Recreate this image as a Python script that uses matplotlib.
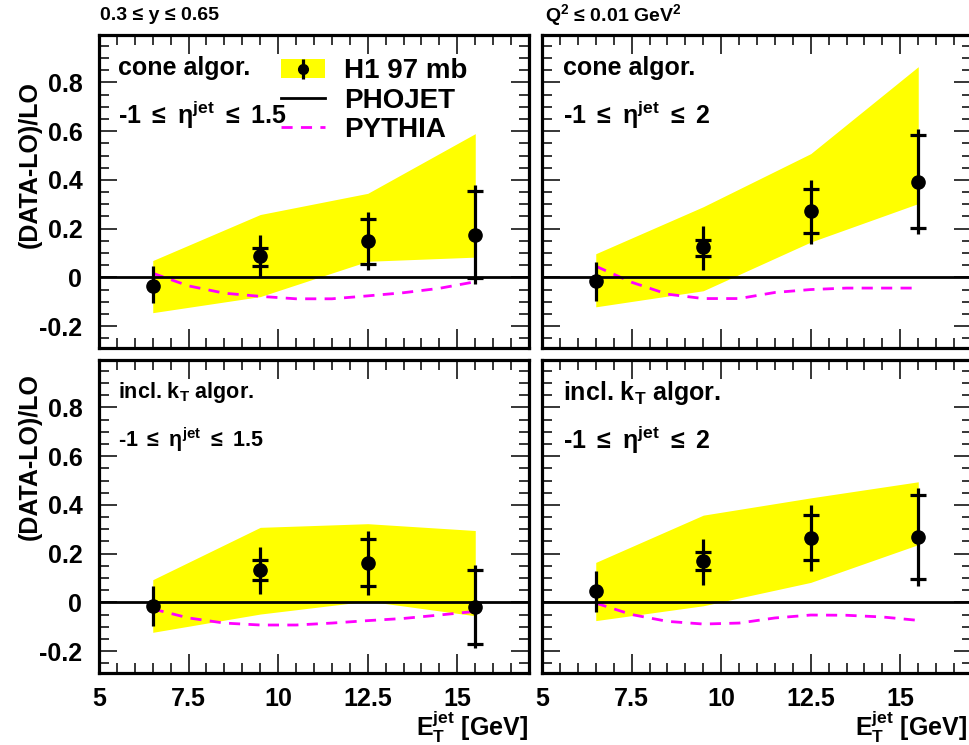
import matplotlib
matplotlib.use("Agg")
import matplotlib.pyplot as plt
from matplotlib.patches import Patch
from matplotlib.lines import Line2D
from matplotlib.ticker import MultipleLocator

plt.rcParams['font.family'] = ['Liberation Sans', 'DejaVu Sans']
plt.rcParams['font.weight'] = 'bold'
plt.rcParams['mathtext.fontset'] = 'custom'
plt.rcParams['mathtext.rm'] = 'Liberation Sans'
plt.rcParams['mathtext.bf'] = 'Liberation Sans:bold'
plt.rcParams['mathtext.it'] = 'Liberation Sans:italic'

# E_T bin centres
et = [6.5, 9.5, 12.5, 15.5]
# x positions where the PYTHIA curves were read
pythia_x = [6.5, 7.5, 8.5, 9.5, 10.5, 11.5, 12.5, 13.5, 14.5, 15.5]
# PHOJET is the reference (zero) line
phojet_x = [5, 17]
phojet_y = [0, 0]

# cone algorithm, -1 < eta < 1.5
cone15_val = [-0.035, 0.086, 0.149, 0.172]
cone15_tot_hi = [0.045, 0.175, 0.269, 0.379]
cone15_tot_lo = [-0.105, 0.0, 0.030, -0.028]
cone15_stat_hi = [None, 0.121, 0.241, 0.356]
cone15_stat_lo = [None, 0.048, 0.055, -0.003]
cone15_band_hi = [0.069, 0.258, 0.345, 0.590]
cone15_band_lo = [-0.145, -0.079, 0.066, 0.083]
cone15_pythia = [0.017, -0.035, -0.065, -0.078, -0.088, -0.088, -0.076, -0.063, -0.045, -0.018]

# cone algorithm, -1 < eta < 2
cone2_val = [-0.014, 0.123, 0.272, 0.393]
cone2_tot_hi = [0.062, 0.210, 0.400, 0.610]
cone2_tot_lo = [-0.097, 0.030, 0.138, 0.177]
cone2_stat_hi = [None, 0.154, 0.363, 0.583]
cone2_stat_lo = [None, 0.088, 0.182, 0.204]
cone2_band_hi = [0.097, 0.290, 0.508, 0.865]
cone2_band_lo = [-0.121, -0.055, 0.145, 0.303]
cone2_pythia = [0.046, -0.020, -0.069, -0.087, -0.087, -0.062, -0.050, -0.044, -0.044, -0.044]

# incl. kT algorithm, -1 < eta < 1.5
kt15_val = [-0.016, 0.132, 0.162, -0.019]
kt15_tot_hi = [0.066, 0.226, 0.292, 0.152]
kt15_tot_lo = [-0.096, 0.036, 0.029, -0.188]
kt15_stat_hi = [None, 0.175, 0.260, 0.134]
kt15_stat_lo = [None, 0.090, 0.066, -0.170]
kt15_band_hi = [0.093, 0.308, 0.323, 0.295]
kt15_band_lo = [-0.123, -0.048, 0.005, -0.055]
kt15_pythia = [-0.027, -0.064, -0.085, -0.093, -0.093, -0.085, -0.075, -0.066, -0.052, -0.037]

# incl. kT algorithm, -1 < eta < 2
kt2_val = [0.045, 0.168, 0.263, 0.268]
kt2_tot_hi = [0.127, 0.262, 0.401, 0.470]
kt2_tot_lo = [-0.041, 0.073, 0.127, 0.066]
kt2_stat_hi = [None, 0.207, 0.360, 0.440]
kt2_stat_lo = [None, 0.132, 0.173, 0.096]
kt2_band_hi = [0.164, 0.358, 0.429, 0.495]
kt2_band_lo = [-0.075, -0.014, 0.082, 0.237]
kt2_pythia = [-0.003, -0.050, -0.078, -0.089, -0.085, -0.064, -0.052, -0.053, -0.060, -0.074]

xticks = [5, 7.5, 10, 12.5, 15]
xticklabels = ['5', '7.5', '10', '12.5', '15']
yticks = [-0.2, 0, 0.2, 0.4, 0.6, 0.8]
yticklabels = ['-0.2', '0', '0.2', '0.4', '0.6', '0.8']

YELLOW = '#ffff00'
MAGENTA = '#ff00ff'

fig = plt.figure(figsize=(9.7, 7.45), dpi=100)
W, H = 970.0, 745.0
def px_axes(x0, y0, w, h):
    return fig.add_axes([x0 / W, 1 - (y0 + h) / H, w / W, h / H])

ax_tl = px_axes(99, 35, 430, 313)
ax_tr = px_axes(542, 35, 430, 313)
ax_bl = px_axes(99, 360, 430, 313)
ax_br = px_axes(542, 360, 430, 313)


def draw_panel(ax, val, tot_hi, tot_lo, st_hi, st_lo, b_hi, b_lo, pyth):
    ax.fill_between(et, b_lo, b_hi, color=YELLOW, lw=0, zorder=1)
    ax.plot(pythia_x, pyth, color=MAGENTA, lw=2.0, dashes=(4, 3), zorder=2)
    ax.plot(phojet_x, phojet_y, color='k', lw=2.0, zorder=3)
    ax.vlines(et, tot_lo, tot_hi, color='k', lw=2.3, zorder=4)
    sx = [x for x, s in zip(et, st_hi) if s is not None]
    ax.plot(sx, [s for s in st_hi if s is not None], ls='none', marker='_', ms=11, mew=2.3, color='k', zorder=4)
    ax.plot(sx, [s for s in st_lo if s is not None], ls='none', marker='_', ms=11, mew=2.3, color='k', zorder=4)
    ax.plot(et, val, ls='none', marker='o', ms=9.5, color='k', zorder=5)

    ax.set_xlim(5, 17)
    ax.set_ylim(-0.29, 0.995)
    ax.set_xticks(xticks)
    ax.set_yticks(yticks)
    ax.xaxis.set_minor_locator(MultipleLocator(0.5))
    ax.yaxis.set_minor_locator(MultipleLocator(0.05))
    ax.tick_params(which='both', direction='in', top=True, right=True, width=1.1, color='k')
    ax.tick_params(which='major', axis='x', length=14)
    ax.tick_params(which='major', axis='y', length=13)
    ax.tick_params(which='minor', length=7)
    ax.tick_params(axis='x', pad=10, labelsize=18)
    ax.tick_params(axis='y', pad=12, labelsize=18)
    for s in ax.spines.values():
        s.set_linewidth(2.3)
    ax.set_xticklabels([])
    ax.set_yticklabels([])


draw_panel(ax_tl, cone15_val, cone15_tot_hi, cone15_tot_lo, cone15_stat_hi, cone15_stat_lo,
           cone15_band_hi, cone15_band_lo, cone15_pythia)
draw_panel(ax_tr, cone2_val, cone2_tot_hi, cone2_tot_lo, cone2_stat_hi, cone2_stat_lo,
           cone2_band_hi, cone2_band_lo, cone2_pythia)
draw_panel(ax_bl, kt15_val, kt15_tot_hi, kt15_tot_lo, kt15_stat_hi, kt15_stat_lo,
           kt15_band_hi, kt15_band_lo, kt15_pythia)
draw_panel(ax_br, kt2_val, kt2_tot_hi, kt2_tot_lo, kt2_stat_hi, kt2_stat_lo,
           kt2_band_hi, kt2_band_lo, kt2_pythia)

for ax in (ax_tl, ax_bl):
    ax.set_yticklabels(yticklabels, fontweight='bold')
xlab = r'$\mathbf{E}_{\mathbf{T}}^{\mathbf{jet}}$ [GeV]'
ax_bl.set_xticklabels(xticklabels, fontweight='bold')
ax_br.set_xticklabels(xticklabels, fontweight='bold')
ax_bl.text(0.998, -0.172, xlab, transform=ax_bl.transAxes, ha='right', va='center', fontsize=18)
ax_br.text(0.99, -0.172, xlab, transform=ax_br.transAxes, ha='right', va='center', fontsize=18)

ax_tl.text(-0.16, 0.585, '(DATA-LO)/LO', transform=ax_tl.transAxes, rotation=90,
           ha='center', va='center', fontsize=18, fontweight='bold')
ax_bl.text(-0.16, 0.69, '(DATA-LO)/LO', transform=ax_bl.transAxes, rotation=90,
           ha='center', va='center', fontsize=18, fontweight='bold')

eta15 = r'-1 $\leq\ \mathrm{\eta}^{\mathbf{jet}}\ \leq$ 1.5'
eta2 = r'-1 $\leq\ \mathrm{\eta}^{\mathbf{jet}}\ \leq$ 2'
kt_text = r'incl. k$_\mathbf{T}$ algor.'

ax_tl.text(0.044, 0.895, 'cone algor.', transform=ax_tl.transAxes, va='center', fontsize=18)
ax_tl.text(0.044, 0.744, eta15, transform=ax_tl.transAxes, va='center', fontsize=18)
ax_tr.text(0.049, 0.895, 'cone algor.', transform=ax_tr.transAxes, va='center', fontsize=18)
ax_tr.text(0.049, 0.744, eta2, transform=ax_tr.transAxes, va='center', fontsize=18)
ax_bl.text(0.044, 0.895, kt_text, transform=ax_bl.transAxes, va='center', fontsize=15.5)
ax_bl.text(0.044, 0.745, eta15, transform=ax_bl.transAxes, va='center', fontsize=15.5)
ax_br.text(0.049, 0.895, kt_text, transform=ax_br.transAxes, va='center', fontsize=18)
ax_br.text(0.049, 0.745, eta2, transform=ax_br.transAxes, va='center', fontsize=18)

fig.text(100 / W, 1 - 15 / H, '0.3 ≤ y ≤ 0.65', ha='left', va='center', fontsize=14)
fig.text(545 / W, 1 - 15 / H, r'Q$^\mathbf{2}$ ≤ 0.01 GeV$^\mathbf{2}$', ha='left', va='center', fontsize=14)

# legend
h1 = (Patch(facecolor=YELLOW, edgecolor='none'),
      Line2D([], [], color='k', marker='|', ms=14, mew=2.3, ls='none'),
      Line2D([], [], color='k', marker='o', ms=7, ls='none'))
phojet_h = Line2D([], [], color='k', lw=2.0)
pythia_h = Line2D([], [], color=MAGENTA, lw=2.0, dashes=(4, 3))
ax_tl.legend([h1, phojet_h, pythia_h], ['H1 97 mb', 'PHOJET', 'PYTHIA'],
             loc='upper left', bbox_to_anchor=(0.392, 0.97), frameon=False, borderpad=0,
             handlelength=1.55, handletextpad=0.7, labelspacing=0.12,
             prop={'size': 20, 'weight': 'bold'})

fig.savefig('out.png', dpi=100)
